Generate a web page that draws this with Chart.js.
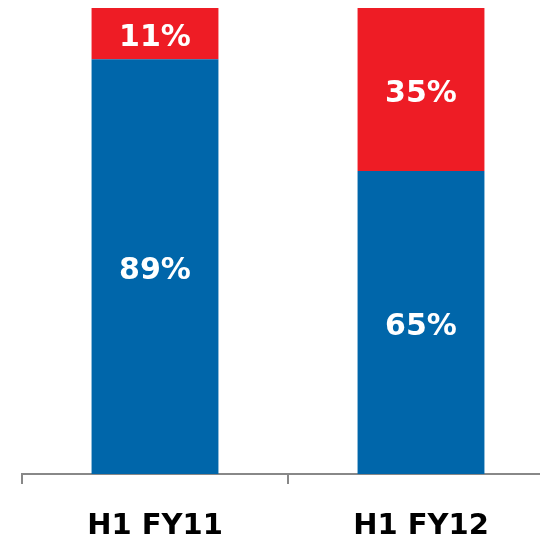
<!DOCTYPE html>
<html>
<head>
<meta charset="utf-8">
<script src="https://cdn.jsdelivr.net/npm/chart.js@4"></script>
<style>
  html, body { margin: 0; padding: 0; background: #fff; overflow: hidden; }
  #wrap { width: 540px; height: 540px; overflow: hidden; }
</style>
</head>
<body>
<div id="wrap"><canvas id="grafico" width="560" height="540"></canvas></div>
<script>
const periodos = ['H1 FY11', 'H1 FY12'];
const parteAzul = [89, 65];
const parteRoja = [11, 35];

// etiquetas blancas centradas en cada segmento
const etiquetasSegmentos = {
  id: 'etiquetasSegmentos',
  afterDatasetsDraw(chart) {
    const ctx = chart.ctx;
    ctx.save();
    ctx.fillStyle = '#ffffff';
    ctx.font = "bold 30px 'DejaVu Sans', Verdana, sans-serif";
    ctx.textAlign = 'center';
    ctx.textBaseline = 'middle';
    chart.data.datasets.forEach((ds, i) => {
      chart.getDatasetMeta(i).data.forEach((barra, j) => {
        const centro = (barra.y + barra.base) / 2;
        ctx.fillText(ds.data[j] + '%', barra.x, centro + 5);
      });
    });
    ctx.restore();
  }
};

const ctx = document.getElementById('grafico');
new Chart(ctx, {
  type: 'bar',
  data: {
    labels: periodos,
    datasets: [
      { data: parteAzul, backgroundColor: '#0066AA' },
      { data: parteRoja, backgroundColor: '#EE1C25' }
    ]
  },
  options: {
    responsive: false,
    animation: false,
    categoryPercentage: 1,
    barPercentage: 0.477,
    layout: { padding: { top: 8, left: 22, right: 6, bottom: -30 } },
    plugins: {
      legend: { display: false },
      tooltip: { enabled: false }
    },
    scales: {
      x: {
        stacked: true,
        border: { display: true, color: '#888888', width: 2 },
        grid: {
          display: true,
          drawOnChartArea: false,
          drawTicks: true,
          tickLength: 10,
          color: '#888888',
          lineWidth: 2
        },
        ticks: {
          color: '#000000',
          padding: 30,
          font: { size: 29, weight: 'bold', lineHeight: 0.9, family: "'DejaVu Sans', Verdana, sans-serif" }
        }
      },
      y: {
        stacked: true,
        display: false,
        min: 0,
        max: 100
      }
    }
  },
  plugins: [etiquetasSegmentos]
});
</script>
</body>
</html>
